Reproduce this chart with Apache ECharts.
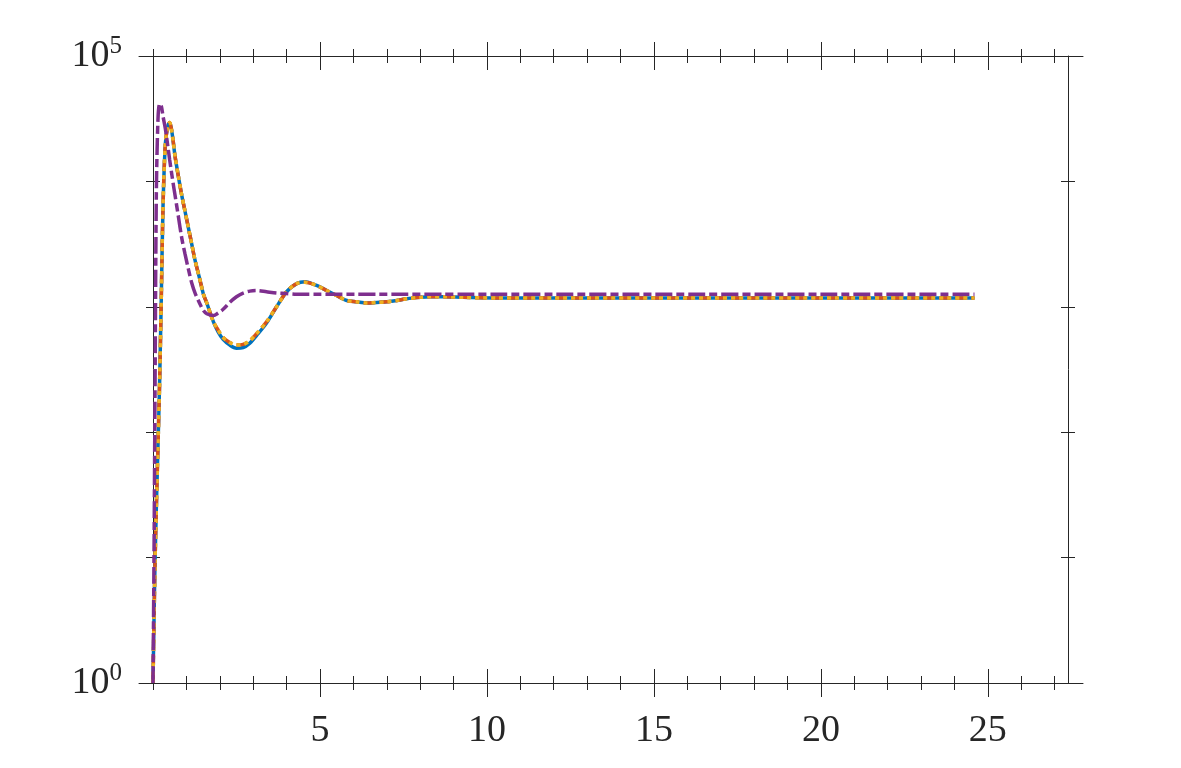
<!DOCTYPE html>
<html><head><meta charset="utf-8">
<script src="https://cdn.jsdelivr.net/npm/echarts@6/dist/echarts.min.js"></script>
<style>html,body{margin:0;padding:0;background:#fff}#c{width:1181px;height:768px}</style>
</head><body><div id="c"></div>
<script>
const t = [0, 0.03, 0.06, 0.1, 0.15, 0.2, 0.25, 0.3, 0.37, 0.45, 0.5, 0.55, 0.6, 0.66, 0.76, 0.86, 0.96, 1.06, 1.16, 1.26, 1.41, 1.51, 1.61, 1.81, 1.95, 2.1, 2.3, 2.5, 2.7, 2.9, 3.1, 3.4, 3.7, 4.0, 4.3, 4.55, 4.9, 5.2, 5.5, 5.8, 6.1, 6.4, 6.7, 7.0, 7.3, 7.6, 8.0, 8.3, 8.7, 9.3, 10.3, 12, 15, 20, 24.6];
const blueVals = [1, 3.16, 8.91, 25.1, 79.4, 263, 1259, 6310, 19950, 28180, 29510, 26300, 21380, 15850, 10960, 7762, 5754, 4266, 3162, 2344, 1622, 1259, 1072, 759, 631, 550, 495, 468, 473, 513, 589, 741, 1000, 1318, 1531, 1585, 1479, 1349, 1230, 1122, 1096, 1072, 1084, 1096, 1122, 1161, 1189, 1202, 1202, 1189, 1175, 1175, 1175, 1175, 1175];
const orangeVals = [1, 3.16, 8.91, 25.1, 79.4, 263, 1259, 6310, 19950, 28180, 29510, 26300, 21380, 15850, 10960, 7762, 5754, 4266, 3162, 2344, 1622, 1259, 1072, 759, 653, 569, 519, 495, 501, 537, 610, 759, 1000, 1318, 1531, 1567, 1479, 1349, 1230, 1122, 1096, 1072, 1084, 1096, 1122, 1161, 1189, 1202, 1202, 1189, 1175, 1175, 1175, 1175, 1175];
const yellowVals = [1, 3.16, 8.91, 25.1, 79.4, 263, 1259, 6310, 19950, 28180, 29510, 26300, 21380, 15850, 10960, 7762, 5754, 4266, 3162, 2344, 1622, 1259, 1072, 759, 653, 569, 519, 495, 501, 537, 610, 759, 1000, 1318, 1531, 1567, 1479, 1349, 1230, 1122, 1096, 1072, 1084, 1096, 1122, 1161, 1189, 1202, 1202, 1189, 1175, 1175, 1175, 1175, 1175];
const purpleVals = [1, 10, 200, 7943, 31620, 41690, 39810, 33110, 26300, 18620, 14790, 12020, 9772, 7762, 5248, 3548, 2630, 1995, 1549, 1288, 1047, 933, 881, 851, 891, 955, 1084, 1202, 1288, 1334, 1349, 1318, 1288, 1274, 1259, 1259, 1259, 1259, 1259, 1259, 1259, 1259, 1259, 1259, 1259, 1259, 1259, 1259, 1259, 1259, 1259, 1259, 1259, 1259, 1259];
const xMinorTicks = [0,1,2,3,4,5,6,7,8,9,10,11,12,13,14,15,16,17,18,19,20,21,22,23,24,25,26,27];
const xMajorTicks = [5, 10, 15, 20, 25];
const yLabelExps = [0, 5];

const INK = '#262626';
const FONT = '"Liberation Serif", "DejaVu Serif", serif';
const pair = (vals) => t.map((x, i) => [x, vals[i]]);

const baseX = {gridIndex: 0, type: 'value', min: 0, max: 27.4, splitLine: {show: false},
  axisLine: {show: false, onZero: false}, axisTick: {show: false}, axisLabel: {show: false}};
const tickX = (pos, vals, len) => Object.assign({}, baseX, {position: pos, offset: -len / 2,
  axisTick: {show: true, inside: false, length: len, customValues: vals, lineStyle: {color: INK, width: 1}}});
const baseY = {gridIndex: 0, type: 'log', logBase: 10, min: 1, max: 100000, splitLine: {show: false},
  axisLine: {show: false, onZero: false}, axisTick: {show: false}, axisLabel: {show: false}};
const lineOn = {show: true, onZero: false, lineStyle: {color: INK, width: 1}};

const chart = echarts.init(document.getElementById('c'), null, {renderer: 'canvas'});
chart.setOption({
  backgroundColor: '#fff',
  animation: false,
  grid: [
    {left: 153, width: 915, top: 56, height: 627},
    {left: 139, width: 944, top: 56, height: 627}
  ],
  xAxis: [
    Object.assign({}, baseX, {position: 'bottom',
      axisLabel: {show: true, customValues: xMajorTicks, margin: 29, color: INK, fontSize: 38, fontFamily: FONT}}),
    tickX('bottom', xMinorTicks, 14),
    tickX('bottom', xMajorTicks, 28),
    tickX('top', xMinorTicks, 14),
    tickX('top', xMajorTicks, 28),
    {gridIndex: 1, type: 'value', min: 0, max: 1, position: 'bottom', splitLine: {show: false},
      axisLine: lineOn, axisTick: {show: false}, axisLabel: {show: false}},
    {gridIndex: 1, type: 'value', min: 0, max: 1, position: 'top', splitLine: {show: false},
      axisLine: lineOn, axisTick: {show: false}, axisLabel: {show: false}}
  ],
  yAxis: [
    Object.assign({}, baseY, {position: 'left', axisLine: lineOn,
      axisLabel: {show: true, margin: 31, color: INK,
        formatter: function (v) {
          const e = Math.round(Math.log10(v));
          return yLabelExps.indexOf(e) >= 0 ? '{b|10}{s|' + e + '}' : '';
        },
        rich: {
          b: {fontSize: 38, fontFamily: FONT, color: INK, lineHeight: 44},
          s: {fontSize: 25, fontFamily: FONT, color: INK, lineHeight: 22, verticalAlign: 'top'}
        }}}),
    Object.assign({}, baseY, {position: 'left', offset: -7,
      axisTick: {show: true, length: 14, lineStyle: {color: INK, width: 1}}}),
    Object.assign({}, baseY, {position: 'right', axisLine: lineOn}),
    Object.assign({}, baseY, {position: 'right', offset: -7,
      axisTick: {show: true, length: 14, lineStyle: {color: INK, width: 1}}}),
    {gridIndex: 1, type: 'value', show: false}
  ],
  series: [
    {type: 'line', xAxisIndex: 0, yAxisIndex: 0, data: pair(blueVals), showSymbol: false, smooth: 0.3,
      lineStyle: {color: '#0072BD', width: 3.5}},
    {type: 'line', xAxisIndex: 0, yAxisIndex: 0, data: pair(orangeVals), showSymbol: false, smooth: 0.3,
      lineStyle: {color: '#D95319', width: 3.5, type: [11, 5]}},
    {type: 'line', xAxisIndex: 0, yAxisIndex: 0, data: pair(yellowVals), showSymbol: false, smooth: 0.3,
      lineStyle: {color: '#EDB120', width: 3.5, type: [4, 4]}},
    {type: 'line', xAxisIndex: 0, yAxisIndex: 0, data: pair(purpleVals), showSymbol: false, smooth: 0.3,
      lineStyle: {color: '#7E2F8E', width: 3.5, type: [17, 4, 8, 4]}}
  ]
});
</script></body></html>
